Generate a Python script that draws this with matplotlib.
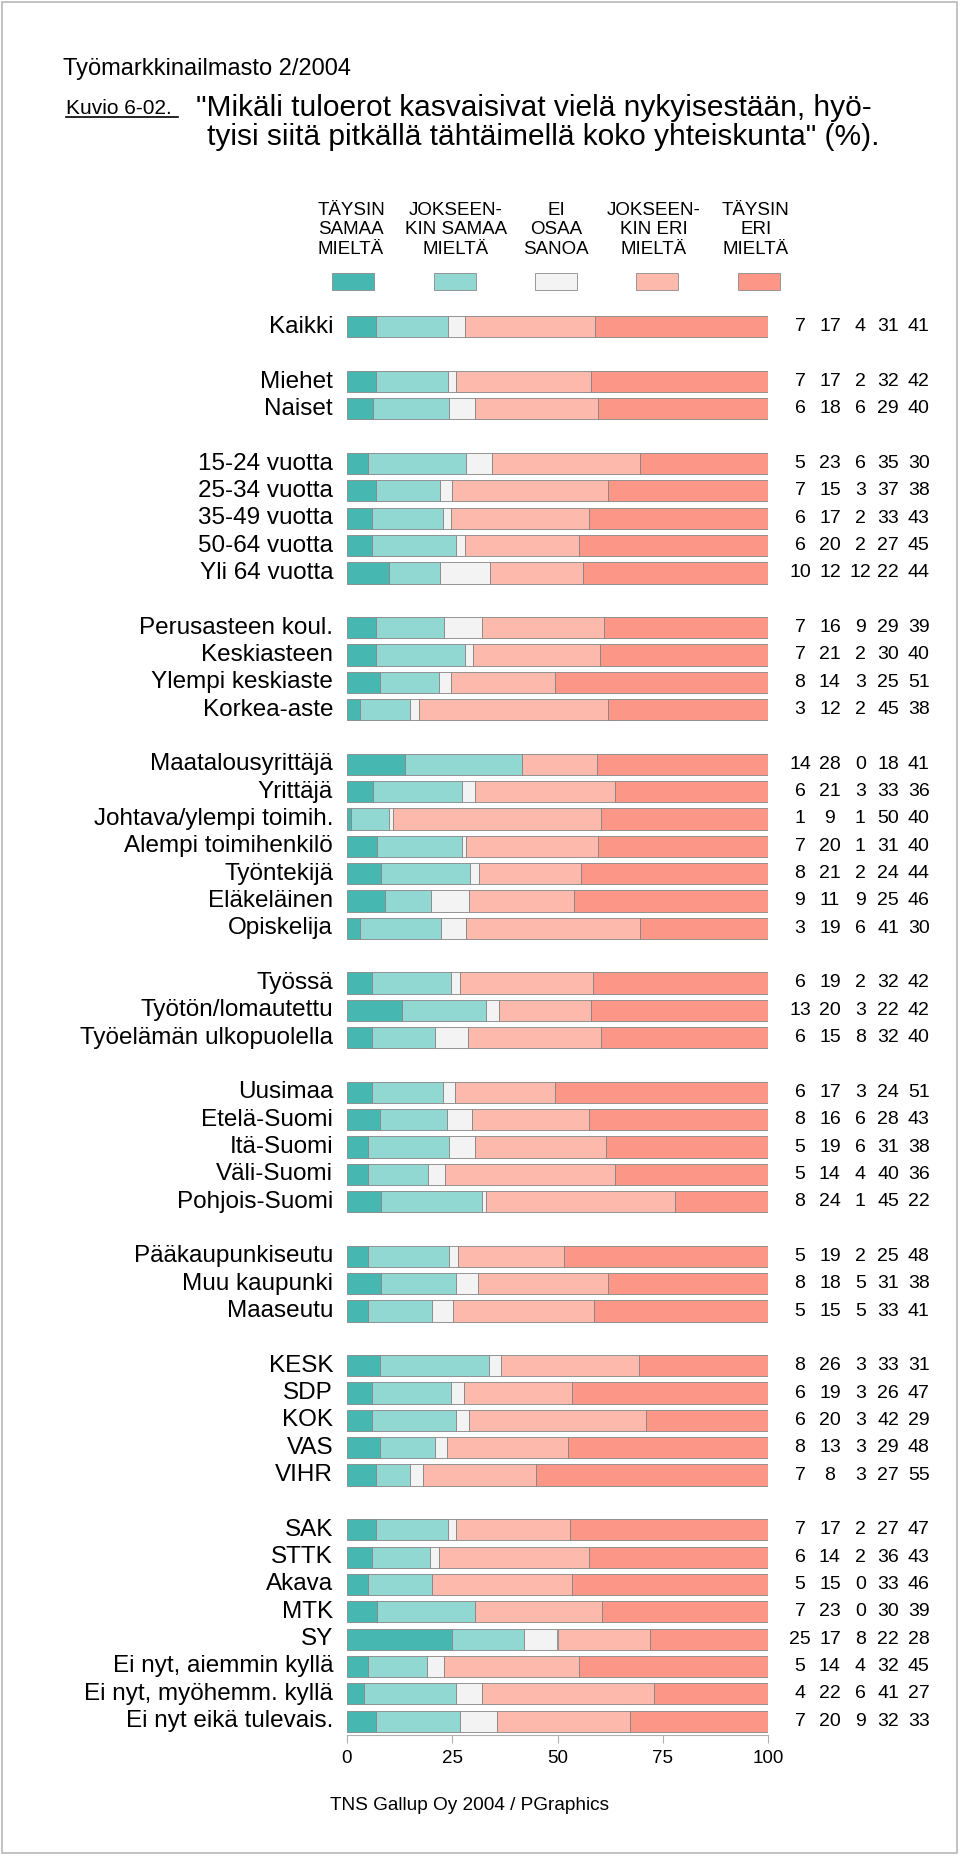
import numpy as np
import matplotlib.pyplot as plt
from matplotlib.patches import Rectangle

plt.rcParams['font.family'] = ['Liberation Sans', 'DejaVu Sans']

# row labels, one list per group
groups = [
    ['Kaikki'],
    ['Miehet', 'Naiset'],
    ['15-24 vuotta', '25-34 vuotta', '35-49 vuotta', '50-64 vuotta', 'Yli 64 vuotta'],
    ['Perusasteen koul.', 'Keskiasteen', 'Ylempi keskiaste', 'Korkea-aste'],
    ['Maatalousyrittäjä', 'Yrittäjä', 'Johtava/ylempi toimih.', 'Alempi toimihenkilö',
     'Työntekijä', 'Eläkeläinen', 'Opiskelija'],
    ['Työssä', 'Työtön/lomautettu', 'Työelämän ulkopuolella'],
    ['Uusimaa', 'Etelä-Suomi', 'Itä-Suomi', 'Väli-Suomi', 'Pohjois-Suomi'],
    ['Pääkaupunkiseutu', 'Muu kaupunki', 'Maaseutu'],
    ['KESK', 'SDP', 'KOK', 'VAS', 'VIHR'],
    ['SAK', 'STTK', 'Akava', 'MTK', 'SY', 'Ei nyt, aiemmin kyllä',
     'Ei nyt, myöhemm. kyllä', 'Ei nyt eikä tulevais.'],
]

# percentages per row, in the same order as the labels above
taysin_samaa = [7, 7, 6, 5, 7, 6, 6, 10, 7, 7, 8, 3, 14, 6, 1, 7, 8, 9, 3, 6, 13, 6,
                6, 8, 5, 5, 8, 5, 8, 5, 8, 6, 6, 8, 7, 7, 6, 5, 7, 25, 5, 4, 7]
jokseenkin_samaa = [17, 17, 18, 23, 15, 17, 20, 12, 16, 21, 14, 12, 28, 21, 9, 20, 21, 11, 19, 19, 20, 15,
                    17, 16, 19, 14, 24, 19, 18, 15, 26, 19, 20, 13, 8, 17, 14, 15, 23, 17, 14, 22, 20]
ei_osaa = [4, 2, 6, 6, 3, 2, 2, 12, 9, 2, 3, 2, 0, 3, 1, 1, 2, 9, 6, 2, 3, 8,
           3, 6, 6, 4, 1, 2, 5, 5, 3, 3, 3, 3, 3, 2, 2, 0, 0, 8, 4, 6, 9]
jokseenkin_eri = [31, 32, 29, 35, 37, 33, 27, 22, 29, 30, 25, 45, 18, 33, 50, 31, 24, 25, 41, 32, 22, 32,
                  24, 28, 31, 40, 45, 25, 31, 33, 33, 26, 42, 29, 27, 27, 36, 33, 30, 22, 32, 41, 32]
taysin_eri = [41, 42, 40, 30, 38, 43, 45, 44, 39, 40, 51, 38, 41, 36, 40, 40, 44, 46, 30, 42, 42, 40,
              51, 43, 38, 36, 22, 48, 38, 41, 31, 47, 29, 48, 55, 47, 43, 46, 39, 28, 45, 27, 33]

series = [taysin_samaa, jokseenkin_samaa, ei_osaa, jokseenkin_eri, taysin_eri]
headers = ['TÄYSIN\nSAMAA\nMIELTÄ', 'JOKSEEN-\nKIN SAMAA\nMIELTÄ', 'EI\nOSAA\nSANOA',
           'JOKSEEN-\nKIN ERI\nMIELTÄ', 'TÄYSIN\nERI\nMIELTÄ']
colors = ['#46b8b1', '#91d7d2', '#f3f3f3', '#fdb9ab', '#fc9787']
ticks = [0, 25, 50, 75, 100]

W, H = 960, 1857


def fx(px):
    return px / W


def fy(py):
    return 1 - py / H


fig = plt.figure(figsize=(W / 100, H / 100), dpi=100)

# slot positions: one empty slot between groups
labels = []
slots = []
s = 0
for g in groups:
    for lab in g:
        labels.append(lab)
        slots.append(s)
        s += 1
    s += 1
nslots = s - 1

ax_top, ax_bot = 313.3, 1734.7
ax = fig.add_axes([fx(347), fy(ax_bot), fx(768) - fx(347), (ax_bot - ax_top) / H])
ax.set_xlim(0, 100)
ax.set_ylim(nslots - 0.5, -0.5)

vals = np.array(series, dtype=float).T
vals = vals / vals.sum(axis=1, keepdims=True) * 100
left = np.zeros(len(labels))
for i in range(5):
    ax.barh(slots, vals[:, i], left=left, height=0.77, color=colors[i],
            edgecolor='#858585', linewidth=0.6)
    left += vals[:, i]

num_x = [107.6, 114.7, 121.9, 128.5, 135.8]
for j, y in enumerate(slots):
    ax.text(-3.3, y, labels[j], ha='right', va='center', fontsize=17.5)
    for i in range(5):
        ax.text(num_x[i], y, str(series[i][j]), ha='center', va='center',
                fontsize=14, clip_on=False)

for sp in ['top', 'left', 'right']:
    ax.spines[sp].set_visible(False)
ax.spines['bottom'].set_color('#b0b0b0')
ax.set_yticks([])
ax.set_xticks(ticks)
ax.tick_params(axis='x', length=6, color='#b0b0b0', labelsize=13.5, pad=5)

# legend
head_x = [351, 456, 556, 654, 756]
patch_x = [353, 455, 556, 657, 759]
for i in range(5):
    fig.text(fx(head_x[i]), fy(230), headers[i], ha='center', va='center',
             fontsize=13.5, linespacing=1.22)
    fig.patches.append(Rectangle((fx(patch_x[i] - 21), fy(290)), 42 / W, 17 / H,
                                 transform=fig.transFigure, facecolor=colors[i],
                                 edgecolor='#8a8a8a', linewidth=0.6))

# titles
fig.text(fx(63), fy(75), 'Työmarkkinailmasto 2/2004', fontsize=17, va='baseline')
fig.text(fx(66), fy(114), 'Kuvio 6-02.', fontsize=15, va='baseline')
fig.add_artist(plt.Line2D([fx(66), fx(178)], [fy(117), fy(117)], color='black', lw=1.2))
fig.text(fx(196), fy(116), '"Mikäli tuloerot kasvaisivat vielä nykyisestään, hyö-',
         fontsize=21.5, va='baseline')
fig.text(fx(207), fy(145), 'tyisi siitä pitkällä tähtäimellä koko yhteiskunta" (%).',
         fontsize=21.5, va='baseline')

fig.text(fx(330), fy(1806), 'TNS Gallup Oy 2004 / PGraphics', fontsize=13.7, va='center')

# frame round the figure
fig.patches.append(Rectangle((fx(1.5), fy(1853)), (957 - 1.5) / W, (1853 - 1.5) / H,
                             transform=fig.transFigure, fill=False,
                             edgecolor='#b8b8b8', linewidth=1.2))

fig.savefig('out.png', dpi=100, facecolor='white')
